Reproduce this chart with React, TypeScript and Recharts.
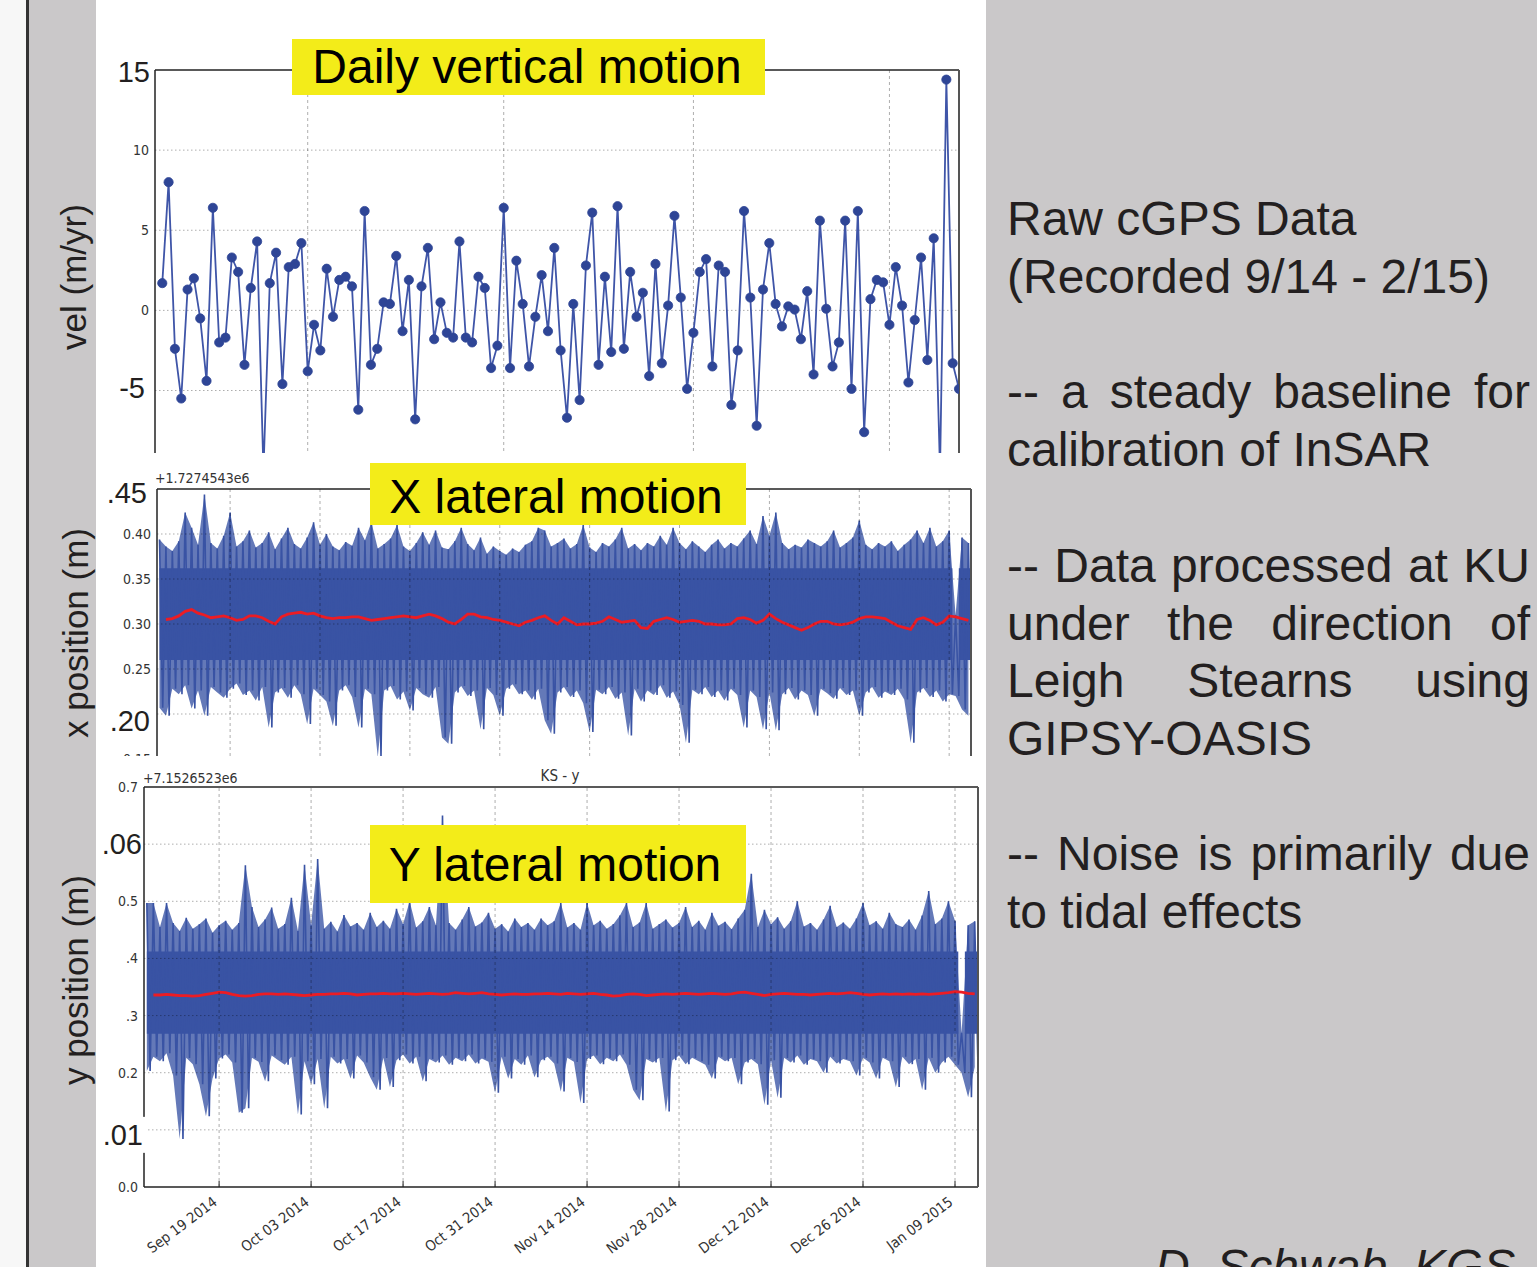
import React from 'react';
import { ComposedChart, LineChart, Line, Area, XAxis, YAxis, ReferenceLine } from 'recharts';

const SANS = '"Liberation Sans", Arial, Helvetica, sans-serif';
const MPL = '"DejaVu Sans Condensed", "DejaVu Sans", sans-serif';
const INK = '#231f20';
const LINE_BLUE = '#3f55a8';
const DOT_BLUE = '#2e4596';
const NOISE_BLUE = '#3953a4';
const MEAN_RED = '#ec1c24';
const YELLOW = '#f3ec19';
const PANEL_GREY = '#cac8c9';

// x values are days counted from Mon Sep 08 2014
const weekTicks = [0, 7, 14, 21, 28, 35, 42, 49, 56, 63, 70, 77, 84, 91, 98, 105, 112, 119, 126];
const monthStarts = [23, 54, 84, 115]; // Oct 1, Nov 1, Dec 1, Jan 1
const dateTicks = [11, 25, 39, 53, 67, 81, 95, 109, 123];
const dateLabels = [
  'Sep 19 2014', 'Oct 03 2014', 'Oct 17 2014', 'Oct 31 2014', 'Nov 14 2014',
  'Nov 28 2014', 'Dec 12 2014', 'Dec 26 2014', 'Jan 09 2015',
];
const gapDay = 124;

// daily vertical velocity (m/yr)
const velTicks = [15, 10, 5, 0, -5];
const velLabels = ['15', '10', '5', '0', '-5'];
const velGrid = [10, 5, 0, -5];
const velocity = [
  1.7, 8.0, -2.4, -5.5, 1.3, 2.0, -0.5, -4.4, 6.4, -2.0,
  -1.7, 3.3, 2.4, -3.4, 1.4, 4.3, -10.0, 1.7, 3.6, -4.6,
  2.7, 2.9, 4.2, -3.8, -0.9, -2.5, 2.6, -0.4, 1.9, 2.1,
  1.5, -6.2, 6.2, -3.4, -2.4, 0.5, 0.4, 3.4, -1.3, 1.9,
  -6.8, 1.5, 3.9, -1.8, 0.5, -1.4, -1.7, 4.3, -1.7, -2.0,
  2.1, 1.4, -3.6, -2.2, 6.4, -3.6, 3.1, 0.4, -3.5, -0.4,
  2.2, -1.3, 3.9, -2.5, -6.7, 0.4, -5.6, 2.8, 6.1, -3.4,
  2.1, -2.6, 6.5, -2.4, 2.4, -0.4, 1.1, -4.1, 2.9, -3.3,
  0.3, 5.9, 0.8, -4.9, -1.4, 2.4, 3.2, -3.5, 2.8, 2.4,
  -5.9, -2.5, 6.2, 0.8, -7.2, 1.3, 4.2, 0.4, -1.0, 0.25,
  0.05, -1.8, 1.2, -4.0, 5.6, 0.1, -3.5, -2.0, 5.6, -4.9,
  6.2, -7.6, 0.7, 1.9, 1.75, -0.9, 2.7, 0.3, -4.5, -0.6,
  3.3, -3.1, 4.5, -10.0, 14.4, -3.3, -4.9,
];

// x position (m, offset +1.7274543e6): daily upper / lower noise peaks, dense core, running mean
const xTicks = [0.45, 0.4, 0.35, 0.3, 0.25, 0.2, 0.15];
const xLabels = ['.45', '0.40', '0.35', '0.30', '0.25', '.20', '0.15'];
const xGrid = [0.4, 0.35, 0.3, 0.25, 0.2];
const xCore = [0.26, 0.362];
const xHigh = [
  0.394, 0.386, 0.381, 0.392, 0.424, 0.407, 0.388, 0.444, 0.39, 0.384,
  0.398, 0.424, 0.386, 0.392, 0.404, 0.385, 0.39, 0.402, 0.383, 0.395,
  0.407, 0.389, 0.384, 0.396, 0.413, 0.388, 0.4, 0.386, 0.382, 0.391,
  0.387, 0.407, 0.393, 0.413, 0.384, 0.389, 0.395, 0.41, 0.386, 0.381,
  0.39, 0.402, 0.388, 0.404, 0.385, 0.383, 0.392, 0.407, 0.389, 0.382,
  0.396, 0.378, 0.386, 0.381, 0.377, 0.384, 0.38, 0.388, 0.392, 0.407,
  0.404, 0.386, 0.39, 0.395, 0.384, 0.389, 0.41, 0.385, 0.38, 0.39,
  0.386, 0.394, 0.407, 0.384, 0.389, 0.382, 0.39, 0.386, 0.398, 0.388,
  0.407, 0.39, 0.383, 0.392, 0.386, 0.38, 0.388, 0.394, 0.384, 0.39,
  0.386, 0.395, 0.404, 0.389, 0.42, 0.398, 0.424, 0.39, 0.383, 0.388,
  0.385, 0.394, 0.39, 0.386, 0.392, 0.404, 0.385, 0.39, 0.396, 0.415,
  0.388, 0.383, 0.39, 0.386, 0.392, 0.381, 0.388, 0.394, 0.404, 0.39,
  0.407, 0.386, 0.392, 0.404, 0.31, 0.396, 0.39,
];
const xLow = [
  0.207, 0.198, 0.228, 0.222, 0.232, 0.206, 0.226, 0.198, 0.23, 0.224,
  0.218, 0.228, 0.234, 0.221, 0.226, 0.215, 0.23, 0.185, 0.224, 0.229,
  0.218, 0.232, 0.222, 0.189, 0.228, 0.221, 0.214, 0.187, 0.226, 0.232,
  0.219, 0.185, 0.228, 0.222, 0.152, 0.226, 0.231, 0.216, 0.225, 0.204,
  0.229, 0.222, 0.218, 0.23, 0.174, 0.167, 0.224, 0.231, 0.22, 0.226,
  0.183, 0.229, 0.221, 0.198, 0.228, 0.233, 0.222, 0.226, 0.216, 0.228,
  0.193, 0.178, 0.224, 0.23, 0.219, 0.226, 0.212, 0.18, 0.227, 0.222,
  0.23, 0.217, 0.224, 0.176, 0.228, 0.214, 0.226, 0.221, 0.232, 0.218,
  0.225, 0.21, 0.168, 0.227, 0.222, 0.23, 0.219, 0.226, 0.215, 0.228,
  0.221, 0.185, 0.226, 0.219, 0.183, 0.224, 0.182, 0.222, 0.229, 0.216,
  0.226, 0.221, 0.198, 0.228, 0.223, 0.217, 0.229, 0.221, 0.226, 0.198,
  0.224, 0.23, 0.218, 0.225, 0.221, 0.228, 0.216, 0.168, 0.224, 0.229,
  0.219, 0.226, 0.214, 0.222, 0.22, 0.205, 0.198,
];
const xMean = [
  null, 0.305, 0.306, 0.309, 0.314, 0.316, 0.312, 0.31, 0.307, 0.308,
  0.309, 0.307, 0.304, 0.305, 0.309, 0.309, 0.307, 0.303, 0.3, 0.308,
  0.311, 0.312, 0.313, 0.311, 0.312, 0.309, 0.307, 0.306, 0.307, 0.307,
  0.308, 0.308, 0.306, 0.304, 0.305, 0.306, 0.307, 0.308, 0.309, 0.308,
  0.307, 0.309, 0.311, 0.309, 0.306, 0.302, 0.3, 0.305, 0.311, 0.311,
  0.308, 0.307, 0.305, 0.304, 0.302, 0.3, 0.298, 0.302, 0.304, 0.307,
  0.309, 0.304, 0.3, 0.307, 0.303, 0.299, 0.3, 0.3, 0.301, 0.303,
  0.308, 0.305, 0.302, 0.303, 0.304, 0.296, 0.295, 0.303, 0.305, 0.307,
  0.305, 0.302, 0.303, 0.304, 0.303, 0.3, 0.3, 0.299, 0.299, 0.3,
  0.306, 0.307, 0.305, 0.301, 0.304, 0.311, 0.306, 0.302, 0.299, 0.296,
  0.293, 0.296, 0.3, 0.303, 0.303, 0.3, 0.299, 0.3, 0.302, 0.306,
  0.308, 0.308, 0.307, 0.306, 0.302, 0.298, 0.296, 0.294, 0.305, 0.307,
  0.304, 0.299, 0.302, 0.309, 0.308, 0.306, 0.304,
];

// y position (m, offset +7.1526523e6)
const yTicks = [0.7, 0.6, 0.5, 0.4, 0.3, 0.2, 0.1, 0];
const yLabels = ['0.7', '.06', '0.5', '.4', '.3', '0.2', '.01', '0.0'];
const yGrid = [0.6, 0.5, 0.4, 0.3, 0.2, 0.1];
const yCore = [0.268, 0.412];
const yHigh = [
  0.497, 0.497, 0.455, 0.497, 0.462, 0.448, 0.471, 0.452, 0.46, 0.47,
  0.445, 0.458, 0.466, 0.45, 0.462, 0.563, 0.49, 0.455, 0.468, 0.489,
  0.452, 0.46, 0.506, 0.448, 0.564, 0.458, 0.574, 0.452, 0.464, 0.447,
  0.476, 0.456, 0.462, 0.45, 0.48, 0.455, 0.466, 0.452, 0.487, 0.46,
  0.5, 0.454, 0.465, 0.49, 0.458, 0.65, 0.462, 0.45, 0.468, 0.49,
  0.456, 0.463, 0.48, 0.452, 0.46, 0.447, 0.47, 0.455, 0.462, 0.45,
  0.47, 0.458, 0.465, 0.497, 0.454, 0.462, 0.45, 0.497, 0.458, 0.466,
  0.452, 0.46, 0.475, 0.497, 0.455, 0.463, 0.497, 0.452, 0.46, 0.468,
  0.454, 0.462, 0.49, 0.455, 0.466, 0.45, 0.48, 0.457, 0.464, 0.451,
  0.47, 0.485, 0.548, 0.455, 0.485, 0.46, 0.472, 0.452, 0.465, 0.5,
  0.456, 0.462, 0.45, 0.468, 0.492, 0.455, 0.463, 0.452, 0.47, 0.497,
  0.458, 0.465, 0.452, 0.48, 0.46, 0.455, 0.468, 0.45, 0.475, 0.518,
  0.46, 0.47, 0.5, 0.466, 0.27, 0.458, 0.465,
];
const yLow = [
  0.203, 0.228, 0.22, 0.234, 0.195, 0.084, 0.226, 0.215, 0.18, 0.124,
  0.19, 0.225, 0.232, 0.218, 0.13, 0.138, 0.226, 0.219, 0.185, 0.23,
  0.222, 0.214, 0.228, 0.127, 0.22, 0.18, 0.224, 0.138, 0.228, 0.216,
  0.224, 0.19, 0.23, 0.218, 0.192, 0.17, 0.226, 0.175, 0.222, 0.232,
  0.216, 0.228, 0.185, 0.224, 0.218, 0.23, 0.214, 0.226, 0.22, 0.232,
  0.216, 0.225, 0.219, 0.165, 0.228, 0.19, 0.224, 0.214, 0.23, 0.192,
  0.222, 0.228, 0.216, 0.167, 0.226, 0.219, 0.147, 0.224, 0.23, 0.215,
  0.226, 0.22, 0.232, 0.214, 0.17, 0.152, 0.224, 0.218, 0.226, 0.132,
  0.222, 0.23, 0.215, 0.226, 0.22, 0.214, 0.19, 0.228, 0.22, 0.226,
  0.18, 0.218, 0.224, 0.215, 0.144, 0.222, 0.156, 0.226, 0.218, 0.23,
  0.214, 0.224, 0.22, 0.2, 0.228, 0.216, 0.224, 0.22, 0.195, 0.226,
  0.218, 0.19, 0.226, 0.22, 0.175, 0.228, 0.215, 0.224, 0.17, 0.226,
  0.2, 0.218, 0.228, 0.214, 0.2, 0.157, 0.21,
];
const yMean = [
  null, 0.336, 0.336, 0.337, 0.336, 0.335, 0.335, 0.334, 0.335, 0.337,
  0.339, 0.341, 0.34, 0.337, 0.335, 0.334, 0.335, 0.337, 0.338, 0.338,
  0.337, 0.338, 0.337, 0.336, 0.335, 0.336, 0.337, 0.337, 0.338, 0.338,
  0.339, 0.338, 0.336, 0.337, 0.338, 0.338, 0.339, 0.338, 0.338, 0.339,
  0.338, 0.337, 0.338, 0.339, 0.338, 0.337, 0.338, 0.34, 0.339, 0.338,
  0.339, 0.34, 0.338, 0.337, 0.336, 0.337, 0.338, 0.337, 0.337, 0.338,
  0.338, 0.339, 0.338, 0.337, 0.339, 0.338, 0.337, 0.338, 0.339, 0.337,
  0.336, 0.334, 0.335, 0.337, 0.338, 0.337, 0.335, 0.336, 0.337, 0.338,
  0.337, 0.338, 0.339, 0.338, 0.337, 0.338, 0.339, 0.338, 0.337, 0.338,
  0.34, 0.341, 0.339, 0.337, 0.335, 0.337, 0.338, 0.339, 0.338, 0.337,
  0.337, 0.336, 0.337, 0.338, 0.339, 0.338, 0.339, 0.34, 0.339, 0.337,
  0.336, 0.337, 0.338, 0.337, 0.338, 0.337, 0.338, 0.337, 0.338, 0.337,
  0.338, 0.339, 0.34, 0.342, 0.341, 0.339, 0.338,
];

const velData = velocity.map((v, i) => ({ day: i, v }));

// one sample at each daily high, one half a day later at the daily low;
// env spans the daily peaks, core is the solid part of the band
function noiseRows(high: number[], low: number[], mean: (number | null)[], core: number[]) {
  const rows: any[] = [];
  high.forEach((h, i) => {
    rows.push({ t: i, v: h, env: [low[i], h], core: i === gapDay ? null : core, mean: mean[i] });
    rows.push({ t: i + 0.5, v: low[i], env: null, core, mean: null });
  });
  return rows;
}
const xRows = noiseRows(xHigh, xLow, xMean, xCore);
const yRows = noiseRows(yHigh, yLow, yMean, yCore);

// the big labels were pasted over the plots by hand, so they sit a little off their ticks
const BIG_NUDGE: Record<string, [number, number]> = {
  '15': [-5, 2], '-5': [-10, -3], '.45': [-10, 4], '.20': [-7, 7], '.06': [-2, 0], '.01': [-1, 5],
};

function ValueTick(props: any) {
  const { x, y, payload, values, labels } = props;
  const text = labels[values.indexOf(payload.value)] ?? '';
  const nudge = BIG_NUDGE[text];
  if (nudge) {
    return (
      <g>
        {text === '.01' && <rect x={x - 41} y={y - 13} width={44} height={36} fill="#fff" />}
        <text x={x + nudge[0]} y={y + nudge[1] + 10} textAnchor="end" fontFamily={SANS} fontSize={29} fill={INK}>
          {text}
        </text>
      </g>
    );
  }
  return (
    <text x={x - 6} y={y + 5} textAnchor="end" fontFamily={MPL} fontSize={14} fill="#333">
      {text}
    </text>
  );
}

function DateTick(props: any) {
  const { x, y, payload } = props;
  const label = dateLabels[dateTicks.indexOf(payload.value)];
  const ax = x - 1;
  const ay = y + 17;
  return (
    <g>
      <line x1={x} x2={x} y1={y} y2={y - 6} stroke="#222" />
      <text x={ax} y={ay} transform={`rotate(-37 ${ax} ${ay})`} textAnchor="end" fontFamily={MPL} fontSize={14.5} fill="#333">
        {label}
      </text>
    </g>
  );
}

const gridH = { stroke: '#000', strokeOpacity: 0.32, strokeDasharray: '1.5 2.5' };
const gridV = { stroke: '#000', strokeOpacity: 0.32, strokeDasharray: '3 3' };
const frame = { stroke: '#222', strokeWidth: 1.5 };
const rightFrame = { stroke: '#555', strokeWidth: 2 };

function VelocityChart() {
  return (
    <LineChart width={890} height={453} data={velData} margin={{ top: 69, right: 27, bottom: 0, left: 0 }}>
      {velGrid.map((v) => (
        <ReferenceLine key={'h' + v} y={v} {...gridH} />
      ))}
      {monthStarts.map((d) => (
        <ReferenceLine key={'v' + d} x={d} {...gridV} />
      ))}
      <Line
        type="linear"
        dataKey="v"
        stroke={LINE_BLUE}
        strokeWidth={1.8}
        dot={{ r: 4.6, fill: DOT_BLUE, stroke: DOT_BLUE, strokeWidth: 0.8 }}
        isAnimationActive={false}
      />
      <XAxis
        dataKey="day" type="number" orientation="top" domain={[-1.15, 126]} ticks={weekTicks} interval={0}
        height={1} tick={false} tickSize={4} tickLine={false} axisLine={frame} allowDataOverflow
      />
      <XAxis
        xAxisId="wk" dataKey="day" type="number" orientation="top" domain={[-1.15, 126]} ticks={weekTicks} interval={0}
        height={1} mirror tick={false} tickSize={4} tickLine={{ stroke: '#222' }} axisLine={false} allowDataOverflow
      />
      <YAxis
        type="number" domain={[-8.9, 15]} ticks={velTicks} interval={0} width={59} tickLine={false} tickSize={0}
        tickMargin={0} axisLine={frame} tick={<ValueTick values={velTicks} labels={velLabels} />} allowDataOverflow
      />
      <YAxis
        yAxisId="r" orientation="right" type="number" domain={[-8.9, 15]} ticks={velGrid} interval={0} width={1}
        mirror tick={false} tickSize={8} tickLine={{ stroke: '#444' }} axisLine={rightFrame} allowDataOverflow
      />
    </LineChart>
  );
}

function XPositionChart() {
  return (
    <ComposedChart width={890} height={303} data={xRows} margin={{ top: 32, right: 15, bottom: 0, left: 0 }}>
      <Area type="linear" dataKey="env" stroke="none" fill={NOISE_BLUE} fillOpacity={0.78} connectNulls isAnimationActive={false} />
      <Area type="linear" dataKey="core" stroke="none" fill={NOISE_BLUE} fillOpacity={1} isAnimationActive={false} />
      <Line type="linear" dataKey="v" stroke={NOISE_BLUE} strokeWidth={1.6} dot={false} isAnimationActive={false} />
      <Line type="linear" dataKey="mean" stroke={MEAN_RED} strokeWidth={2.8} dot={false} connectNulls isAnimationActive={false} />
      {xGrid.map((v) => (
        <ReferenceLine key={'h' + v} y={v} {...gridH} />
      ))}
      {dateTicks.map((d) => (
        <ReferenceLine key={'v' + d} x={d} {...gridV} />
      ))}
      <XAxis
        dataKey="t" type="number" orientation="top" domain={[-0.39, 126.4]} ticks={dateTicks} interval={0}
        height={1} tick={false} tickLine={false} axisLine={frame} allowDataOverflow
      />
      <YAxis
        type="number" domain={[0.15, 0.45]} ticks={xTicks} interval={0} width={61} tickLine={false} tickSize={0}
        tickMargin={0} axisLine={frame} tick={<ValueTick values={xTicks} labels={xLabels} />} allowDataOverflow
      />
      <YAxis
        yAxisId="r" orientation="right" type="number" domain={[0.15, 0.45]} ticks={xGrid} interval={0} width={1}
        mirror tick={false} tickSize={5} tickLine={{ stroke: '#444' }} axisLine={rightFrame} allowDataOverflow
      />
    </ComposedChart>
  );
}

function YPositionChart() {
  return (
    <ComposedChart width={890} height={509} data={yRows} margin={{ top: 29, right: 8, bottom: 0, left: 0 }}>
      <Area type="linear" dataKey="env" stroke="none" fill={NOISE_BLUE} fillOpacity={0.78} connectNulls isAnimationActive={false} />
      <Area type="linear" dataKey="core" stroke="none" fill={NOISE_BLUE} fillOpacity={1} isAnimationActive={false} />
      <Line type="linear" dataKey="v" stroke={NOISE_BLUE} strokeWidth={1.6} dot={false} isAnimationActive={false} />
      <Line type="linear" dataKey="mean" stroke={MEAN_RED} strokeWidth={2.8} dot={false} connectNulls isAnimationActive={false} />
      {yGrid.map((v) => (
        <ReferenceLine key={'h' + v} y={v} {...gridH} />
      ))}
      {dateTicks.map((d) => (
        <ReferenceLine key={'v' + d} x={d} {...gridV} />
      ))}
      <XAxis
        dataKey="t" type="number" domain={[-0.43, 126.5]} ticks={dateTicks} interval={0} height={80}
        tickLine={false} tickSize={0} tickMargin={0} tick={<DateTick />} axisLine={frame} allowDataOverflow
      />
      <XAxis
        xAxisId="top" orientation="top" type="number" domain={[-0.43, 126.5]} ticks={dateTicks} interval={0}
        height={1} mirror tick={false} tickSize={5} tickLine={{ stroke: '#333' }} axisLine={frame} allowDataOverflow
      />
      <YAxis
        type="number" domain={[0, 0.7]} ticks={yTicks} interval={0} width={48} tickLine={false} tickSize={0}
        tickMargin={0} axisLine={frame} tick={<ValueTick values={yTicks} labels={yLabels} />} allowDataOverflow
      />
      <YAxis
        yAxisId="r" orientation="right" type="number" domain={[0, 0.7]} ticks={yGrid} interval={0} width={1}
        mirror tick={false} tickSize={5} tickLine={{ stroke: '#444' }} axisLine={rightFrame} allowDataOverflow
      />
    </ComposedChart>
  );
}

const note = (top: number, text: string, justify: boolean) => (
  <div
    style={{
      position: 'absolute', left: 1007, top, width: 523, fontSize: 48, lineHeight: '46px', color: INK,
      textAlign: justify ? 'justify' : 'left', textAlignLast: justify ? 'justify' : 'left', whiteSpace: 'nowrap',
    }}
  >
    {text}
  </div>
);

export default function App() {
  return (
    <div
      style={{
        position: 'absolute', left: 0, top: 0, width: 1537, height: 1267, overflow: 'hidden',
        background: PANEL_GREY, fontFamily: SANS,
      }}
    >
      <div style={{ position: 'absolute', left: 0, top: 0, width: 26, height: 1267, background: '#f7f7f7' }} />
      <div style={{ position: 'absolute', left: 26, top: 0, width: 3, height: 1267, background: '#333' }} />
      <div style={{ position: 'absolute', left: 96, top: 0, width: 890, height: 1267, background: '#fff' }} />

      <div style={{ position: 'absolute', left: 96, top: 0, width: 890, height: 453, overflow: 'hidden' }}>
        <VelocityChart />
      </div>
      <div style={{ position: 'absolute', left: 96, top: 456, width: 890, height: 300, overflow: 'hidden' }}>
        <XPositionChart />
      </div>
      <div style={{ position: 'absolute', left: 96, top: 758, width: 890, height: 509, overflow: 'hidden' }}>
        <YPositionChart />
      </div>

      <svg width={1537} height={1267} style={{ position: 'absolute', left: 0, top: 0, pointerEvents: 'none' }}>
        <rect x={292} y={39} width={473} height={56} fill={YELLOW} />
        <text x={527} y={83} textAnchor="middle" fontFamily={SANS} fontSize={48} fill="#000">Daily vertical motion</text>
        <rect x={370} y={463} width={376} height={62} fill={YELLOW} />
        <text x={556} y={513} textAnchor="middle" fontFamily={SANS} fontSize={48} fill="#000">X lateral motion</text>
        <rect x={370} y={825} width={376} height={78} fill={YELLOW} />
        <text x={555} y={881} textAnchor="middle" fontFamily={SANS} fontSize={48} fill="#000">Y lateral motion</text>

        <text transform="translate(86,277) rotate(-90)" textAnchor="middle" fontFamily={SANS} fontSize={35} fill={INK}>vel (m/yr)</text>
        <text transform="translate(88,633) rotate(-90)" textAnchor="middle" fontFamily={SANS} fontSize={35} fill={INK}>x position (m)</text>
        <text transform="translate(88,980) rotate(-90)" textAnchor="middle" fontFamily={SANS} fontSize={35} fill={INK}>y position (m)</text>

        <text x={155} y={483} fontFamily={MPL} fontSize={14} fill="#333">+1.7274543e6</text>
        <text x={143} y={783} fontFamily={MPL} fontSize={14} fill="#333">+7.1526523e6</text>
        <text x={560} y={781} textAnchor="middle" fontFamily={MPL} fontSize={15} fill="#333">KS - y</text>
      </svg>

      {note(196, 'Raw cGPS Data', false)}
      {note(254, '(Recorded 9/14 - 2/15)', false)}
      {note(369, '-- a steady baseline for', true)}
      {note(427, 'calibration of InSAR', false)}
      {note(543, '-- Data processed at KU', true)}
      {note(601, 'under the direction of', true)}
      {note(658, 'Leigh Stearns using', true)}
      {note(716, 'GIPSY-OASIS', false)}
      {note(831, '-- Noise is primarily due', true)}
      {note(889, 'to tidal effects', false)}
      <div style={{ position: 'absolute', left: 1155, top: 1244, fontSize: 48, lineHeight: '46px', fontStyle: 'italic', color: INK, whiteSpace: 'nowrap' }}>
        D. Schwab, KGS
      </div>
    </div>
  );
}
